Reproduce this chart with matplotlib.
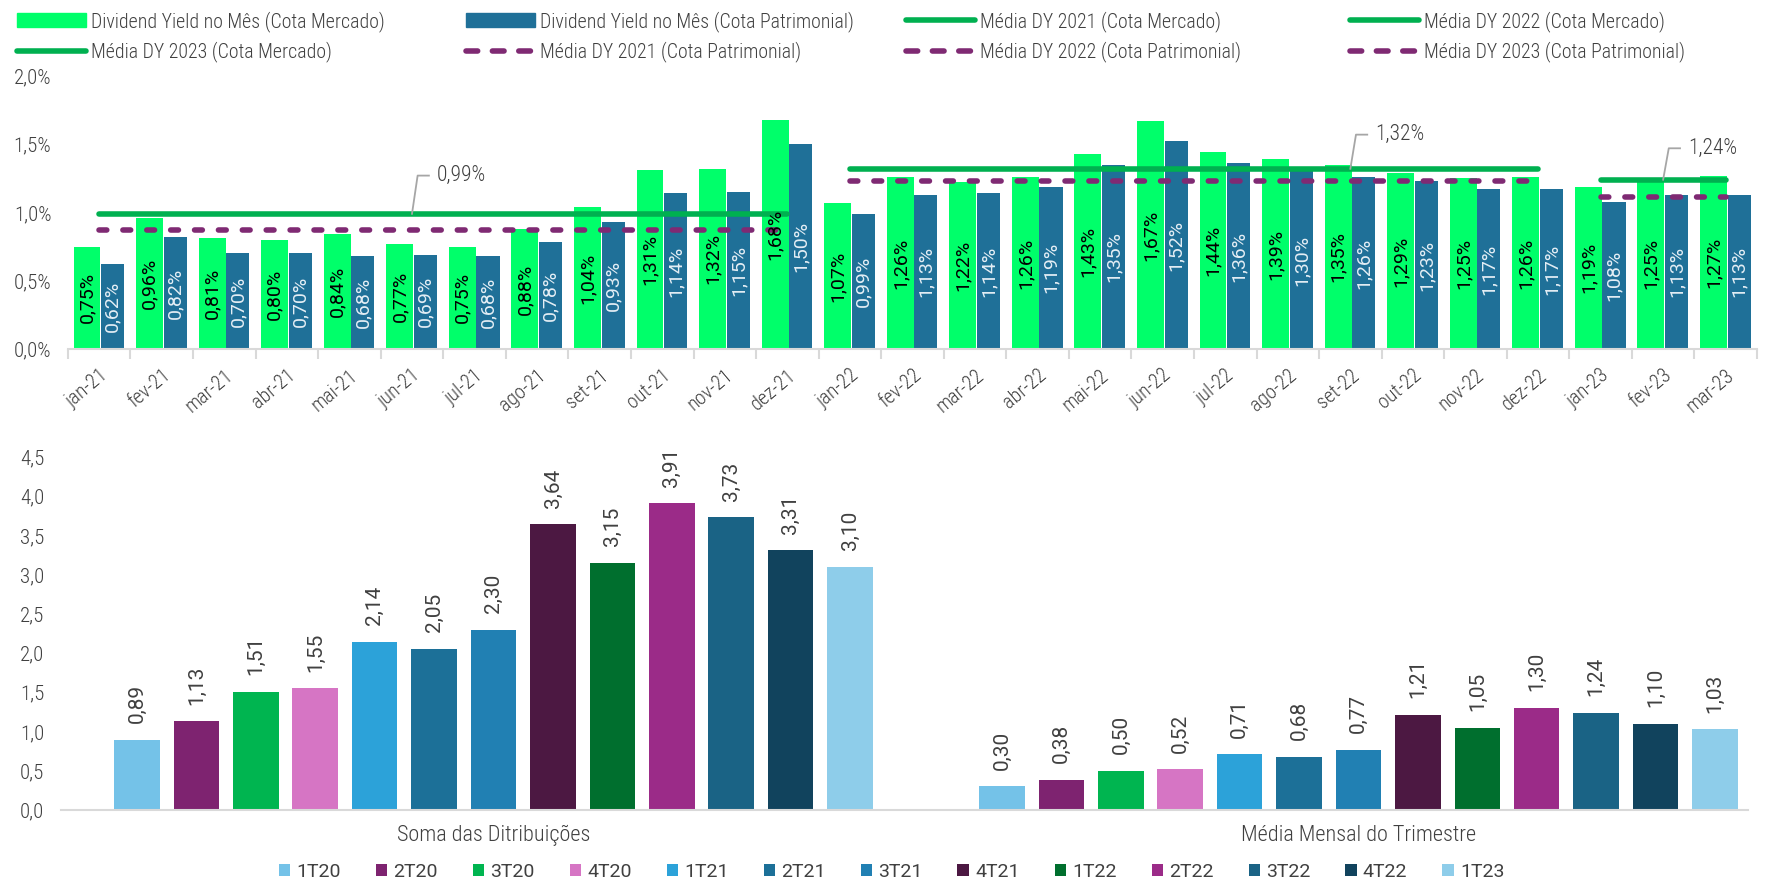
import numpy as np
import matplotlib
matplotlib.use("Agg")
import matplotlib.pyplot as plt
from matplotlib.lines import Line2D
from matplotlib.patches import Patch

plt.rcParams['font.family'] = ['Roboto Condensed', 'Noto Sans', 'DejaVu Sans']
plt.rcParams['font.weight'] = 'light'

# dados - grafico de cima (DY mensal)
meses = ['jan-21', 'fev-21', 'mar-21', 'abr-21', 'mai-21', 'jun-21', 'jul-21', 'ago-21', 'set-21',
         'out-21', 'nov-21', 'dez-21', 'jan-22', 'fev-22', 'mar-22', 'abr-22', 'mai-22', 'jun-22',
         'jul-22', 'ago-22', 'set-22', 'out-22', 'nov-22', 'dez-22', 'jan-23', 'fev-23', 'mar-23']
dy_mercado = [0.75, 0.96, 0.81, 0.80, 0.84, 0.77, 0.75, 0.88, 1.04, 1.31, 1.32, 1.68, 1.07, 1.26,
              1.22, 1.26, 1.43, 1.67, 1.44, 1.39, 1.35, 1.29, 1.25, 1.26, 1.19, 1.25, 1.27]
dy_patrimonial = [0.62, 0.82, 0.70, 0.70, 0.68, 0.69, 0.68, 0.78, 0.93, 1.14, 1.15, 1.50, 0.99, 1.13,
                  1.14, 1.19, 1.35, 1.52, 1.36, 1.30, 1.26, 1.23, 1.17, 1.17, 1.08, 1.13, 1.13]
anos = ['2021', '2022', '2023']
inicio_ano = [0, 12, 24]   # indice do primeiro mes de cada ano
fim_ano = [11, 23, 26]
media_mercado = [0.99, 1.32, 1.24]
media_patrimonial = [0.87, 1.23, 1.11]
rotulo_mes = [5, 20, 25]   # mes onde sai o rotulo da media

# dados - grafico de baixo (distribuicoes por trimestre)
trimestres = ['1T20', '2T20', '3T20', '4T20', '1T21', '2T21', '3T21', '4T21', '1T22', '2T22',
              '3T22', '4T22', '1T23']
soma_dist = [0.89, 1.13, 1.51, 1.55, 2.14, 2.05, 2.30, 3.64, 3.15, 3.91, 3.73, 3.31, 3.10]
media_mensal = [0.30, 0.38, 0.50, 0.52, 0.71, 0.68, 0.77, 1.21, 1.05, 1.30, 1.24, 1.10, 1.03]
grupos = ['Soma das Ditribuições', 'Média Mensal do Trimestre']
cores_tri = ['#74C2E8', '#7E2370', '#00B550', '#D675C4', '#2CA2D9', '#1C7098', '#2180B3',
             '#4C1842', '#006F2E', '#9B2B88', '#1A6385', '#11435D', '#8ECDEA']

verde = '#00FF6A'
azul = '#1F7098'
verde_media = '#00B050'
roxo = '#7F2A73'
cinza_txt = '#404040'
cinza_eixo = '#D9D9D9'
fonte_num = ['Roboto', 'DejaVu Sans']
dash_linha = (0, (1.4, 2.9))
dash_leg = (0, (2.1, 2.65))


def fmt(v, casas=2):
    return f'{v:.{casas}f}'.replace('.', ',')


fig = plt.figure(figsize=(17.83, 8.83), dpi=100)

# ---------------- grafico de cima ----------------
ax1 = fig.add_axes([0.0381, 0.6048, 0.9473, 0.3092])
x = np.arange(len(meses))
ax1.bar(x - 0.195, dy_mercado, width=0.43, color=verde, zorder=2)
ax1.bar(x + 0.215, dy_patrimonial, width=0.37, color=azul, zorder=2)

for i in range(len(meses)):
    ax1.text(x[i] - 0.195, dy_mercado[i] / 2, fmt(dy_mercado[i]) + '%', rotation=90,
             ha='center', va='center', fontsize=14, color='#000000', family=fonte_num,
             weight='normal', zorder=5)
    ax1.text(x[i] + 0.215, dy_patrimonial[i] / 2, fmt(dy_patrimonial[i]) + '%', rotation=90,
             ha='center', va='center', fontsize=14, color='#E4EEF5', family=fonte_num,
             weight='normal', zorder=5)

offs = [0.28, 0.25, 0.23]
for k in range(len(anos)):
    s, e = inicio_ano[k], fim_ano[k]
    ax1.plot([s, e], [media_mercado[k]] * 2, color=verde_media, lw=4, solid_capstyle='round', zorder=3)
    ax1.plot([s, e], [media_patrimonial[k]] * 2, color=roxo, lw=4, ls=dash_linha,
             dash_capstyle='round', zorder=3)
    xa, m = rotulo_mes[k], media_mercado[k]
    yt = m + offs[k]
    ax1.plot([xa, xa + 0.09, xa + 0.27], [m, yt, yt], color='#A6A6A6', lw=1.3, zorder=4)
    ax1.text(xa + 0.4, yt, fmt(m) + '%', ha='left', va='center', fontsize=15.5, color=cinza_txt)

ax1.set_xlim(-0.5, len(meses) - 0.5)
ax1.set_ylim(0, 2.0)
ax1.set_yticks(np.arange(0, 2.01, 0.5))
ax1.set_yticklabels([fmt(v, 1) + '%' for v in np.arange(0, 2.01, 0.5)])
ax1.set_xticks(x)
ax1.set_xticklabels(meses, rotation=40, ha='right', rotation_mode='anchor')
ax1.set_xticks(np.arange(-0.5, len(meses), 1), minor=True)
ax1.tick_params(axis='x', which='major', length=0, pad=12, labelsize=14.5, labelcolor=cinza_txt)
ax1.tick_params(axis='x', which='minor', length=7, width=1.5, color=cinza_eixo)
ax1.tick_params(axis='y', length=0, labelsize=15, labelcolor=cinza_txt, pad=12)
for sp in ['top', 'right', 'left']:
    ax1.spines[sp].set_visible(False)
ax1.spines['bottom'].set_color(cinza_eixo)
ax1.spines['bottom'].set_linewidth(1.5)

# legenda de cima, 4 colunas de largura fixa
h_dym = Patch(color=verde, label='Dividend Yield no Mês (Cota Mercado)')
h_dyp = Patch(color=azul, label='Dividend Yield no Mês (Cota Patrimonial)')
h_m = [Line2D([], [], color=verde_media, lw=4, solid_capstyle='round',
              label=f'Média DY {a} (Cota Mercado)') for a in anos]
h_p = [Line2D([], [], color=roxo, lw=4, ls=dash_leg, dash_capstyle='round',
              label=f'Média DY {a} (Cota Patrimonial)') for a in anos]
colunas = [[h_dym, h_m[2]], [h_dyp, h_p[0]], [h_m[0], h_p[1]], [h_m[1], h_p[2]]]
col_x = [17, 466, 906, 1350]
for hs, cx in zip(colunas, col_x):
    leg = fig.legend(handles=hs, loc='upper left', bbox_to_anchor=(cx / 1783, 0.988),
                     frameon=False, fontsize=14.3, handlelength=3.45, handleheight=0.75,
                     handletextpad=0.3, labelspacing=0.5, borderpad=0, borderaxespad=0)
    for t in leg.get_texts():
        t.set_color(cinza_txt)

# ---------------- grafico de baixo ----------------
ax2 = fig.add_axes([61 / 1783, 0.0827, 0.946, 0.3998])
passo = 0.0687
xg = np.arange(len(grupos))
barras = []
for j in range(len(trimestres)):
    xs = xg + (j - 6) * passo
    vals = [soma_dist[j], media_mensal[j]]
    b = ax2.bar(xs, vals, width=0.0526, color=cores_tri[j], label=trimestres[j])
    barras.append(b)
    for xv, v in zip(xs, vals):
        ax2.annotate(fmt(v), (xv, v), xytext=(0, 12), textcoords='offset points', rotation=90,
                     ha='center', va='bottom', fontsize=15, color=cinza_txt, family=fonte_num,
                     weight='normal')

ax2.set_xlim(-0.5, 1.45)
ax2.set_ylim(0, 4.5)
ax2.set_yticks(np.arange(0, 4.51, 0.5))
ax2.set_yticklabels([fmt(v, 1) for v in np.arange(0, 4.51, 0.5)])
ax2.set_xticks(xg)
ax2.set_xticklabels(grupos)
ax2.tick_params(axis='x', length=0, pad=11, labelsize=16, labelcolor=cinza_txt)
ax2.tick_params(axis='y', length=0, labelsize=15, labelcolor=cinza_txt, pad=12)
for sp in ['top', 'right', 'left']:
    ax2.spines[sp].set_visible(False)
ax2.spines['bottom'].set_color(cinza_eixo)
ax2.spines['bottom'].set_linewidth(1.5)

leg2 = fig.legend(handles=barras, loc='center', bbox_to_anchor=(0.5, 0.0125), ncol=13,
                  frameon=False, prop={'family': fonte_num, 'size': 14, 'weight': 'normal'},
                  handlelength=0.6, handleheight=0.6, handletextpad=0.3, columnspacing=1.8,
                  borderpad=0, borderaxespad=0)
for t in leg2.get_texts():
    t.set_color(cinza_txt)

fig.savefig('out.png', dpi=100)
